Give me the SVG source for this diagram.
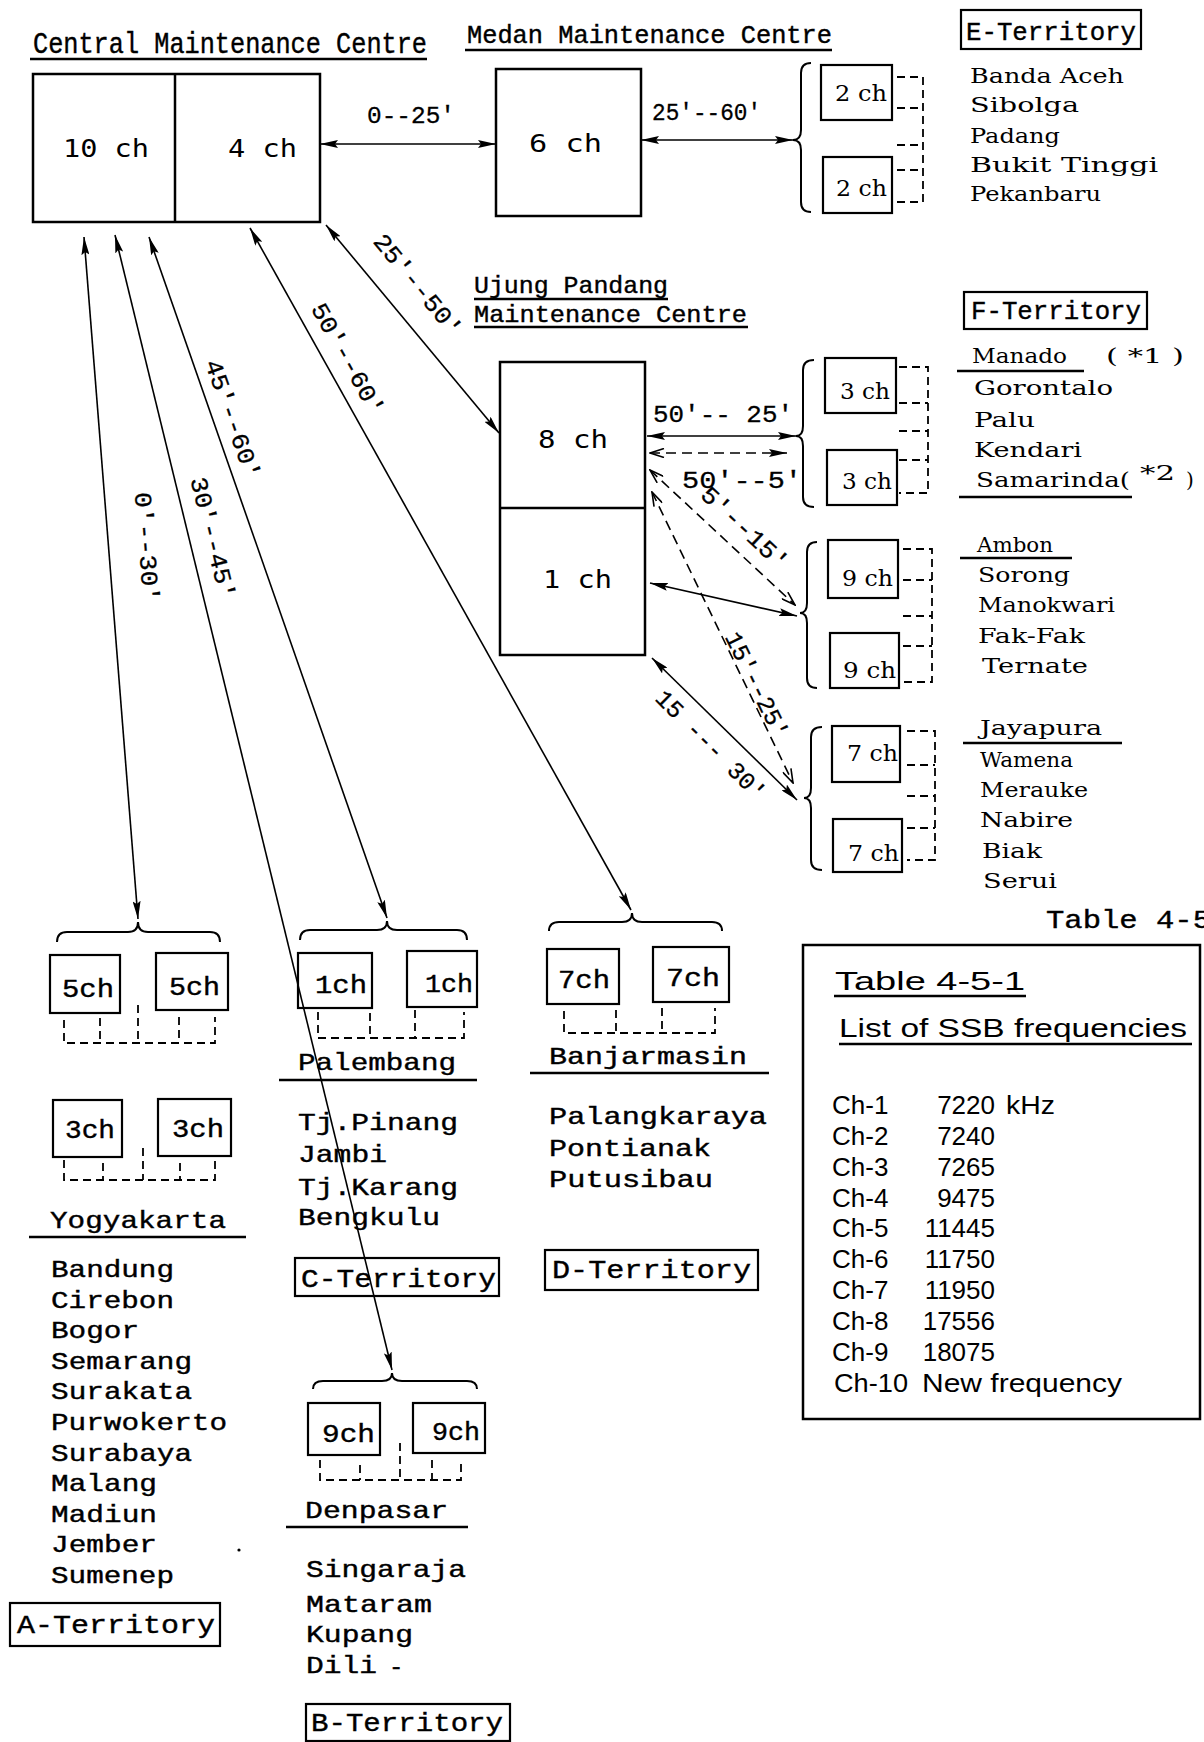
<svg xmlns="http://www.w3.org/2000/svg" width="1204" height="1742" viewBox="0 0 1204 1742">
<style>
.box{fill:none;stroke:#000;stroke-width:2.5}
.sbox{fill:none;stroke:#000;stroke-width:2.2}
.ul{stroke:#000;stroke-width:2.5}
.dash{fill:none;stroke:#000;stroke-width:1.8;stroke-dasharray:8 5}
.brace{fill:none;stroke:#000;stroke-width:2}
.arr{fill:none;stroke:#000;stroke-width:1.6}
.darr{fill:none;stroke:#000;stroke-width:1.6;stroke-dasharray:10 6}
text{fill:#000}
.tw{font-family:"Liberation Mono",monospace;stroke:#000;stroke-width:0.4}
.gm{font-family:"DejaVu Sans Mono",monospace}
.sf{font-family:"DejaVu Serif",serif}
.sn{font-family:"Liberation Sans",sans-serif}
.lst{font-family:"Liberation Mono",monospace;font-size:24px;stroke:#000;stroke-width:0.4}
.cty{font-family:"DejaVu Serif",serif;font-size:20px}
.lbl{font-family:"Liberation Mono",monospace;font-size:24px;stroke:#000;stroke-width:0.3}
.ter{font-family:"Liberation Mono",monospace;font-size:26px;stroke:#000;stroke-width:0.4}
.tb{font-family:"Liberation Sans",sans-serif;font-size:26px}
</style>
<defs>
<marker id="ah" viewBox="0 0 18 8" refX="18" refY="4" markerWidth="18" markerHeight="8" markerUnits="userSpaceOnUse" orient="auto-start-reverse"><path d="M0,0 L18,4 L0,8 L3,4 z" fill="#000"/></marker>
<marker id="oh" viewBox="0 0 16 10" refX="15" refY="5" markerWidth="16" markerHeight="10" markerUnits="userSpaceOnUse" orient="auto-start-reverse"><path d="M1,0.5 L15,5 L1,9.5" fill="none" stroke="#000" stroke-width="1.6"/></marker>
</defs>
<rect x="0" y="0" width="1204" height="1742" fill="#fff"/>

<g id="central">
<text class="tw" x="33" y="53" font-size="29" textLength="394" lengthAdjust="spacingAndGlyphs">Central Maintenance Centre</text>
<line class="ul" x1="30" y1="59" x2="427" y2="59" stroke-width="3"/>
<rect class="box" x="33" y="74" width="287" height="148"/>
<line class="ul" x1="175" y1="74" x2="175" y2="222"/>
<text class="gm" x="63" y="157" font-size="24" textLength="86" lengthAdjust="spacingAndGlyphs">10 ch</text>
<text class="gm" x="228" y="157" font-size="24" textLength="69" lengthAdjust="spacingAndGlyphs">4 ch</text>
</g>

<g id="medan">
<text class="tw" x="467" y="43" font-size="25" textLength="365" lengthAdjust="spacingAndGlyphs">Medan Maintenance Centre</text>
<line class="ul" x1="465" y1="50" x2="832" y2="50" stroke-width="3"/>
<rect class="box" x="496" y="69" width="145" height="147"/>
<text class="gm" x="529" y="152" font-size="24" textLength="73" lengthAdjust="spacingAndGlyphs">6 ch</text>
</g>

<g id="e-territory">
<path class="brace" d="M811,63 Q801,63 801,73 L801,130 Q801,140 793,140 Q801,140 801,150 L801,202 Q801,212 811,212"/>
<rect class="sbox" x="821" y="65" width="71" height="55"/>
<text class="sf" x="835" y="101" font-size="23" textLength="52" lengthAdjust="spacingAndGlyphs">2 ch</text>
<rect class="sbox" x="823" y="157" width="69" height="56"/>
<text class="sf" x="836" y="196" font-size="23" textLength="51" lengthAdjust="spacingAndGlyphs">2 ch</text>
<path class="dash" d="M897,77 H923 V202 H897 M897,108 H923 M897,145 H923 M897,170 H923"/>
<rect class="sbox" x="961" y="10" width="180" height="39"/>
<text class="ter" x="966" y="40" textLength="170" lengthAdjust="spacingAndGlyphs">E-Territory</text>
<text class="cty" x="970" y="83" textLength="154" lengthAdjust="spacingAndGlyphs">Banda Aceh</text>
<text class="cty" x="970" y="112" textLength="109" lengthAdjust="spacingAndGlyphs">Sibolga</text>
<text class="cty" x="970" y="143" textLength="90" lengthAdjust="spacingAndGlyphs">Padang</text>
<text class="cty" x="970" y="172" textLength="188" lengthAdjust="spacingAndGlyphs">Bukit Tinggi</text>
<text class="cty" x="970" y="201" textLength="131" lengthAdjust="spacingAndGlyphs">Pekanbaru</text>
</g>

<g id="ujung">
<text class="tw" x="474" y="293" font-size="24" textLength="194" lengthAdjust="spacingAndGlyphs">Ujung Pandang</text>
<line class="ul" x1="474" y1="299" x2="668" y2="299"/>
<text class="tw" x="474" y="322" font-size="24" textLength="273" lengthAdjust="spacingAndGlyphs">Maintenance Centre</text>
<line class="ul" x1="474" y1="327" x2="748" y2="327"/>
<rect class="box" x="500" y="362" width="145" height="293"/>
<line class="ul" x1="500" y1="508" x2="645" y2="508"/>
<text class="gm" x="538" y="448" font-size="24" textLength="70" lengthAdjust="spacingAndGlyphs">8 ch</text>
<text class="gm" x="543" y="588" font-size="24" textLength="69" lengthAdjust="spacingAndGlyphs">1 ch</text>
</g>

<g id="f-territory">
<rect class="sbox" x="964" y="292" width="183" height="37"/>
<text class="ter" x="971" y="319" textLength="170" lengthAdjust="spacingAndGlyphs">F-Territory</text>
<path class="brace" d="M814,360 Q803,360 803,370 L803,426 Q803,436 796,436 Q803,436 803,446 L803,497 Q803,507 814,507"/>
<rect class="sbox" x="825" y="358" width="71" height="55"/>
<text class="sf" x="840" y="399" font-size="23" textLength="50" lengthAdjust="spacingAndGlyphs">3 ch</text>
<rect class="sbox" x="827" y="450" width="70" height="55"/>
<text class="sf" x="842" y="489" font-size="23" textLength="50" lengthAdjust="spacingAndGlyphs">3 ch</text>
<path class="dash" d="M899,367 H928 V493 H899 M899,403 H928 M899,431 H928 M899,460 H928"/>
<text class="cty" x="972" y="363" textLength="95" lengthAdjust="spacingAndGlyphs">Manado</text>
<text class="cty" x="1106" y="363" textLength="78" lengthAdjust="spacingAndGlyphs">( *1 )</text>
<line class="ul" x1="957" y1="371" x2="1084" y2="371" stroke-width="2"/>
<text class="cty" x="974" y="395" textLength="139" lengthAdjust="spacingAndGlyphs">Gorontalo</text>
<text class="cty" x="974" y="427" textLength="61" lengthAdjust="spacingAndGlyphs">Palu</text>
<text class="cty" x="974" y="457" textLength="108" lengthAdjust="spacingAndGlyphs">Kendari</text>
<text class="cty" x="976" y="487" textLength="154" lengthAdjust="spacingAndGlyphs">Samarinda(</text>
<text class="cty" x="1140" y="480" font-size="18" textLength="35" lengthAdjust="spacingAndGlyphs">*2</text>
<text class="cty" x="1186" y="487">)</text>
<line class="ul" x1="959" y1="497" x2="1132" y2="497" stroke-width="2"/>

<path class="brace" d="M817,542 Q807,542 807,552 L807,603 Q807,613 800,613 Q807,613 807,623 L807,678 Q807,688 817,688"/>
<rect class="sbox" x="828" y="540" width="70" height="58"/>
<text class="sf" x="842" y="586" font-size="23" textLength="51" lengthAdjust="spacingAndGlyphs">9 ch</text>
<rect class="sbox" x="830" y="633" width="69" height="55"/>
<text class="sf" x="843" y="678" font-size="23" textLength="53" lengthAdjust="spacingAndGlyphs">9 ch</text>
<path class="dash" d="M903,549 H932 V682 H903 M903,580 H932 M903,616 H932 M903,646 H932"/>
<text class="cty" x="977" y="552" textLength="76" lengthAdjust="spacingAndGlyphs">Ambon</text>
<line class="ul" x1="960" y1="558" x2="1072" y2="558" stroke-width="2"/>
<text class="cty" x="978" y="582" textLength="92" lengthAdjust="spacingAndGlyphs">Sorong</text>
<text class="cty" x="978" y="612" textLength="137" lengthAdjust="spacingAndGlyphs">Manokwari</text>
<text class="cty" x="978" y="643" textLength="107" lengthAdjust="spacingAndGlyphs">Fak-Fak</text>
<text class="cty" x="982" y="673" textLength="106" lengthAdjust="spacingAndGlyphs">Ternate</text>

<path class="brace" d="M822,727 Q811,727 811,737 L811,788 Q811,798 804,798 Q811,798 811,808 L811,860 Q811,870 822,870"/>
<rect class="sbox" x="832" y="726" width="68" height="56"/>
<text class="sf" x="847" y="761" font-size="23" textLength="51" lengthAdjust="spacingAndGlyphs">7 ch</text>
<rect class="sbox" x="833" y="819" width="69" height="53"/>
<text class="sf" x="848" y="861" font-size="23" textLength="51" lengthAdjust="spacingAndGlyphs">7 ch</text>
<path class="dash" d="M907,731 H935 V860 H907 M907,765 H935 M907,796 H935 M907,828 H935"/>
<text class="cty" x="980" y="735" textLength="122" lengthAdjust="spacingAndGlyphs">Jayapura</text>
<line class="ul" x1="963" y1="743" x2="1122" y2="743" stroke-width="2"/>
<text class="cty" x="980" y="767" textLength="93" lengthAdjust="spacingAndGlyphs">Wamena</text>
<text class="cty" x="980" y="797" textLength="108" lengthAdjust="spacingAndGlyphs">Merauke</text>
<text class="cty" x="980" y="827" textLength="93" lengthAdjust="spacingAndGlyphs">Nabire</text>
<text class="cty" x="982" y="858" textLength="60" lengthAdjust="spacingAndGlyphs">Biak</text>
<text class="cty" x="983" y="888" textLength="74" lengthAdjust="spacingAndGlyphs">Serui</text>
</g>

<g id="a-territory">
<path class="brace" d="M57,942 Q57,932 67,932 L128,932 Q138,932 138,922 Q138,932 148,932 L210,932 Q220,932 220,942"/>
<rect class="sbox" x="50" y="955" width="70" height="58"/>
<text class="tw" x="62" y="997" font-size="26" textLength="52" lengthAdjust="spacingAndGlyphs">5ch</text>
<rect class="sbox" x="156" y="953" width="72" height="57"/>
<text class="tw" x="169" y="995" font-size="26" textLength="51" lengthAdjust="spacingAndGlyphs">5ch</text>
<path class="dash" d="M64,1020 V1043 H215 V1017 M100,1018 V1043 M138,1005 V1043 M179,1017 V1043"/>
<rect class="sbox" x="53" y="1100" width="69" height="57"/>
<text class="tw" x="65" y="1138" font-size="26" textLength="50" lengthAdjust="spacingAndGlyphs">3ch</text>
<rect class="sbox" x="158" y="1099" width="73" height="57"/>
<text class="tw" x="172" y="1137" font-size="26" textLength="52" lengthAdjust="spacingAndGlyphs">3ch</text>
<path class="dash" d="M64,1160 V1180 H215 V1159 M103,1163 V1180 M143,1148 V1180 M180,1163 V1180"/>
<text class="lst" x="50" y="1228" font-size="25" textLength="176" lengthAdjust="spacingAndGlyphs">Yogyakarta</text>
<line class="ul" x1="29" y1="1237" x2="246" y2="1237"/>
<text class="lst" x="51" y="1277" textLength="123" lengthAdjust="spacingAndGlyphs">Bandung</text>
<text class="lst" x="51" y="1308" textLength="123" lengthAdjust="spacingAndGlyphs">Cirebon</text>
<text class="lst" x="51" y="1338" textLength="88" lengthAdjust="spacingAndGlyphs">Bogor</text>
<text class="lst" x="51" y="1369" textLength="141" lengthAdjust="spacingAndGlyphs">Semarang</text>
<text class="lst" x="51" y="1399" textLength="141" lengthAdjust="spacingAndGlyphs">Surakata</text>
<text class="lst" x="51" y="1430" textLength="176" lengthAdjust="spacingAndGlyphs">Purwokerto</text>
<text class="lst" x="51" y="1461" textLength="141" lengthAdjust="spacingAndGlyphs">Surabaya</text>
<text class="lst" x="51" y="1491" textLength="106" lengthAdjust="spacingAndGlyphs">Malang</text>
<text class="lst" x="51" y="1522" textLength="106" lengthAdjust="spacingAndGlyphs">Madiun</text>
<text class="lst" x="51" y="1552" textLength="106" lengthAdjust="spacingAndGlyphs">Jember</text>
<text class="lst" x="51" y="1583" textLength="123" lengthAdjust="spacingAndGlyphs">Sumenep</text>
<rect class="sbox" x="10" y="1603" width="210" height="43"/>
<text class="ter" x="17" y="1633" textLength="198" lengthAdjust="spacingAndGlyphs">A-Territory</text>
<circle cx="239" cy="1550" r="1.6" fill="#000"/>
</g>

<g id="c-territory">
<path class="brace" d="M300,940 Q300,930 310,930 L377,930 Q387,930 387,921 Q387,930 397,930 L457,930 Q467,930 467,940"/>
<rect class="sbox" x="298" y="953" width="74" height="55"/>
<text class="tw" x="315" y="993" font-size="26" textLength="52" lengthAdjust="spacingAndGlyphs">1ch</text>
<rect class="sbox" x="407" y="951" width="70" height="56"/>
<text class="tw" x="425" y="992" font-size="26" textLength="48" lengthAdjust="spacingAndGlyphs">1ch</text>
<path class="dash" d="M318,1012 V1038 H464 V1012 M370,1013 V1038 M415,1010 V1038"/>
<text class="lst" x="298" y="1070" font-size="25" textLength="158" lengthAdjust="spacingAndGlyphs">Palembang</text>
<line class="ul" x1="279" y1="1080" x2="477" y2="1080"/>
<text class="lst" x="298" y="1130" textLength="160" lengthAdjust="spacingAndGlyphs">Tj.Pinang</text>
<text class="lst" x="298" y="1162" textLength="89" lengthAdjust="spacingAndGlyphs">Jambi</text>
<text class="lst" x="298" y="1195" textLength="160" lengthAdjust="spacingAndGlyphs">Tj.Karang</text>
<text class="lst" x="298" y="1225" textLength="142" lengthAdjust="spacingAndGlyphs">Bengkulu</text>
<rect class="sbox" x="295" y="1258" width="204" height="38"/>
<text class="ter" x="301" y="1287" textLength="195" lengthAdjust="spacingAndGlyphs">C-Territory</text>
</g>

<g id="d-territory">
<path class="brace" d="M549,931 Q549,922 559,922 L622,922 Q632,922 632,913 Q632,922 642,922 L712,922 Q722,922 722,931"/>
<rect class="sbox" x="547" y="949" width="72" height="55"/>
<text class="tw" x="558" y="988" font-size="26" textLength="52" lengthAdjust="spacingAndGlyphs">7ch</text>
<rect class="sbox" x="653" y="947" width="76" height="55"/>
<text class="tw" x="666" y="986" font-size="26" textLength="54" lengthAdjust="spacingAndGlyphs">7ch</text>
<path class="dash" d="M564,1011 V1033 H715 V1008 M616,1010 V1033 M662,1008 V1033"/>
<text class="lst" x="549" y="1064" font-size="25" textLength="198" lengthAdjust="spacingAndGlyphs">Banjarmasin</text>
<line class="ul" x1="530" y1="1073" x2="769" y2="1073"/>
<text class="lst" x="549" y="1124" textLength="218" lengthAdjust="spacingAndGlyphs">Palangkaraya</text>
<text class="lst" x="549" y="1156" textLength="162" lengthAdjust="spacingAndGlyphs">Pontianak</text>
<text class="lst" x="549" y="1187" textLength="164" lengthAdjust="spacingAndGlyphs">Putusibau</text>
<rect class="sbox" x="545" y="1250" width="213" height="40"/>
<text class="ter" x="552" y="1278" textLength="199" lengthAdjust="spacingAndGlyphs">D-Territory</text>
</g>

<g id="b-territory">
<path class="brace" d="M313,1389 Q313,1381 323,1381 L382,1381 Q392,1381 392,1373 Q392,1381 402,1381 L467,1381 Q477,1381 477,1389"/>
<rect class="sbox" x="308" y="1403" width="72" height="52"/>
<text class="tw" x="322" y="1442" font-size="26" textLength="53" lengthAdjust="spacingAndGlyphs">9ch</text>
<rect class="sbox" x="413" y="1403" width="72" height="50"/>
<text class="tw" x="432" y="1440" font-size="26" textLength="48" lengthAdjust="spacingAndGlyphs">9ch</text>
<path class="dash" d="M320,1460 V1480 H461 V1460 M360,1465 V1480 M400,1443 V1480 M432,1460 V1480"/>
<text class="lst" x="305" y="1518" font-size="25" textLength="143" lengthAdjust="spacingAndGlyphs">Denpasar</text>
<line class="ul" x1="286" y1="1527" x2="468" y2="1527"/>
<text class="lst" x="306" y="1577" textLength="160" lengthAdjust="spacingAndGlyphs">Singaraja</text>
<text class="lst" x="306" y="1612" textLength="126" lengthAdjust="spacingAndGlyphs">Mataram</text>
<text class="lst" x="306" y="1642" textLength="107" lengthAdjust="spacingAndGlyphs">Kupang</text>
<text class="lst" x="306" y="1673" textLength="71" lengthAdjust="spacingAndGlyphs">Dili</text>
<text class="lst" x="389" y="1674" font-size="14">-</text>
<rect class="sbox" x="306" y="1704" width="204" height="37"/>
<text class="ter" x="311" y="1731" textLength="192" lengthAdjust="spacingAndGlyphs">B-Territory</text>
</g>

<g id="table">
<text class="tw" x="1046" y="928" font-size="26" textLength="165" lengthAdjust="spacingAndGlyphs">Table 4-5</text>
<rect class="box" x="803" y="945" width="397" height="474"/>
<text class="tb" x="835" y="990" textLength="190" lengthAdjust="spacingAndGlyphs">Table 4-5-1</text>
<line class="ul" x1="834" y1="996" x2="1026" y2="996"/>
<text class="tb" x="839" y="1037" textLength="348" lengthAdjust="spacingAndGlyphs">List of SSB frequencies</text>
<line class="ul" x1="839" y1="1044" x2="1192" y2="1044"/>
<g class="tb">
<text x="832" y="1114">Ch-1</text><text x="995" y="1114" text-anchor="end">7220</text><text x="1006" y="1114" textLength="49" lengthAdjust="spacingAndGlyphs">kHz</text>
<text x="832" y="1145">Ch-2</text><text x="995" y="1145" text-anchor="end">7240</text>
<text x="832" y="1176">Ch-3</text><text x="995" y="1176" text-anchor="end">7265</text>
<text x="832" y="1207">Ch-4</text><text x="995" y="1207" text-anchor="end">9475</text>
<text x="832" y="1237">Ch-5</text><text x="995" y="1237" text-anchor="end">11445</text>
<text x="832" y="1268">Ch-6</text><text x="995" y="1268" text-anchor="end">11750</text>
<text x="832" y="1299">Ch-7</text><text x="995" y="1299" text-anchor="end">11950</text>
<text x="832" y="1330">Ch-8</text><text x="995" y="1330" text-anchor="end">17556</text>
<text x="832" y="1361">Ch-9</text><text x="995" y="1361" text-anchor="end">18075</text>
<text x="834" y="1392" textLength="74" lengthAdjust="spacingAndGlyphs">Ch-10</text><text x="922" y="1392" textLength="200" lengthAdjust="spacingAndGlyphs">New frequency</text>
</g>
</g>

<g id="connectors">
<line class="arr" x1="320" y1="144" x2="496" y2="144" stroke-width="2.5" marker-start="url(#ah)" marker-end="url(#ah)"/>
<line class="arr" x1="641" y1="140" x2="793" y2="140" stroke-width="2.5" marker-start="url(#ah)" marker-end="url(#ah)"/>
<line class="arr" x1="326" y1="225" x2="499" y2="433" marker-start="url(#ah)" marker-end="url(#ah)"/>
<line class="arr" x1="250" y1="228" x2="631" y2="910" marker-start="url(#ah)" marker-end="url(#ah)"/>
<line class="arr" x1="149" y1="237" x2="387" y2="918" marker-start="url(#ah)" marker-end="url(#ah)"/>
<line class="arr" x1="115" y1="235" x2="392" y2="1370" stroke-width="1.4" marker-start="url(#ah)" marker-end="url(#ah)"/>
<line class="arr" x1="84" y1="237" x2="138" y2="919" marker-start="url(#ah)" marker-end="url(#ah)"/>
<line class="arr" x1="647" y1="436" x2="796" y2="436" stroke-width="2.5" marker-start="url(#ah)" marker-end="url(#ah)"/>
<line class="darr" x1="650" y1="453" x2="787" y2="453" stroke-width="2" marker-start="url(#oh)" marker-end="url(#ah)"/>
<line class="darr" x1="650" y1="470" x2="795" y2="605" marker-start="url(#oh)" marker-end="url(#oh)"/>
<line class="darr" x1="652" y1="492" x2="793" y2="783" marker-start="url(#oh)" marker-end="url(#oh)"/>
<line class="arr" x1="650" y1="583" x2="797" y2="616" stroke-width="2.2" marker-start="url(#ah)" marker-end="url(#ah)"/>
<line class="arr" x1="652" y1="658" x2="797" y2="800" stroke-width="2" marker-start="url(#ah)" marker-end="url(#ah)"/>
<text class="lbl" x="367" y="123" textLength="88" lengthAdjust="spacingAndGlyphs">0--25'</text>
<text class="lbl" x="652" y="120" textLength="109" lengthAdjust="spacingAndGlyphs">25'--60'</text>
<text class="lbl" x="653" y="422" textLength="140" lengthAdjust="spacingAndGlyphs">50'-- 25'</text>
<text class="lbl" x="682" y="488" textLength="120" lengthAdjust="spacingAndGlyphs">50'--5'</text>
<text class="lbl" transform="translate(418,285) rotate(50.6)" x="0" y="8" text-anchor="middle" textLength="125" lengthAdjust="spacingAndGlyphs">25'--50'</text>
<text class="lbl" transform="translate(348,359) rotate(60.7)" x="0" y="8" text-anchor="middle" textLength="125" lengthAdjust="spacingAndGlyphs">50'--60'</text>
<text class="lbl" transform="translate(233,419) rotate(70.7)" x="0" y="8" text-anchor="middle" textLength="125" lengthAdjust="spacingAndGlyphs">45'--60'</text>
<text class="lbl" transform="translate(213,538) rotate(76.2)" x="0" y="8" text-anchor="middle" textLength="125" lengthAdjust="spacingAndGlyphs">30'--45'</text>
<text class="lbl" transform="translate(147,547) rotate(85.5)" x="0" y="8" text-anchor="middle" textLength="110" lengthAdjust="spacingAndGlyphs">0'--30'</text>
<text class="lbl" transform="translate(745,528) rotate(43)" x="0" y="8" text-anchor="middle" textLength="110" lengthAdjust="spacingAndGlyphs">5'--15'</text>
<text class="lbl" transform="translate(757,685) rotate(64)" x="0" y="8" text-anchor="middle" textLength="115" lengthAdjust="spacingAndGlyphs">15'--25'</text>
<text class="lbl" transform="translate(711,745) rotate(45)" x="0" y="8" text-anchor="middle" textLength="145" lengthAdjust="spacingAndGlyphs">15 --- 30'</text>
</g>
</svg>
